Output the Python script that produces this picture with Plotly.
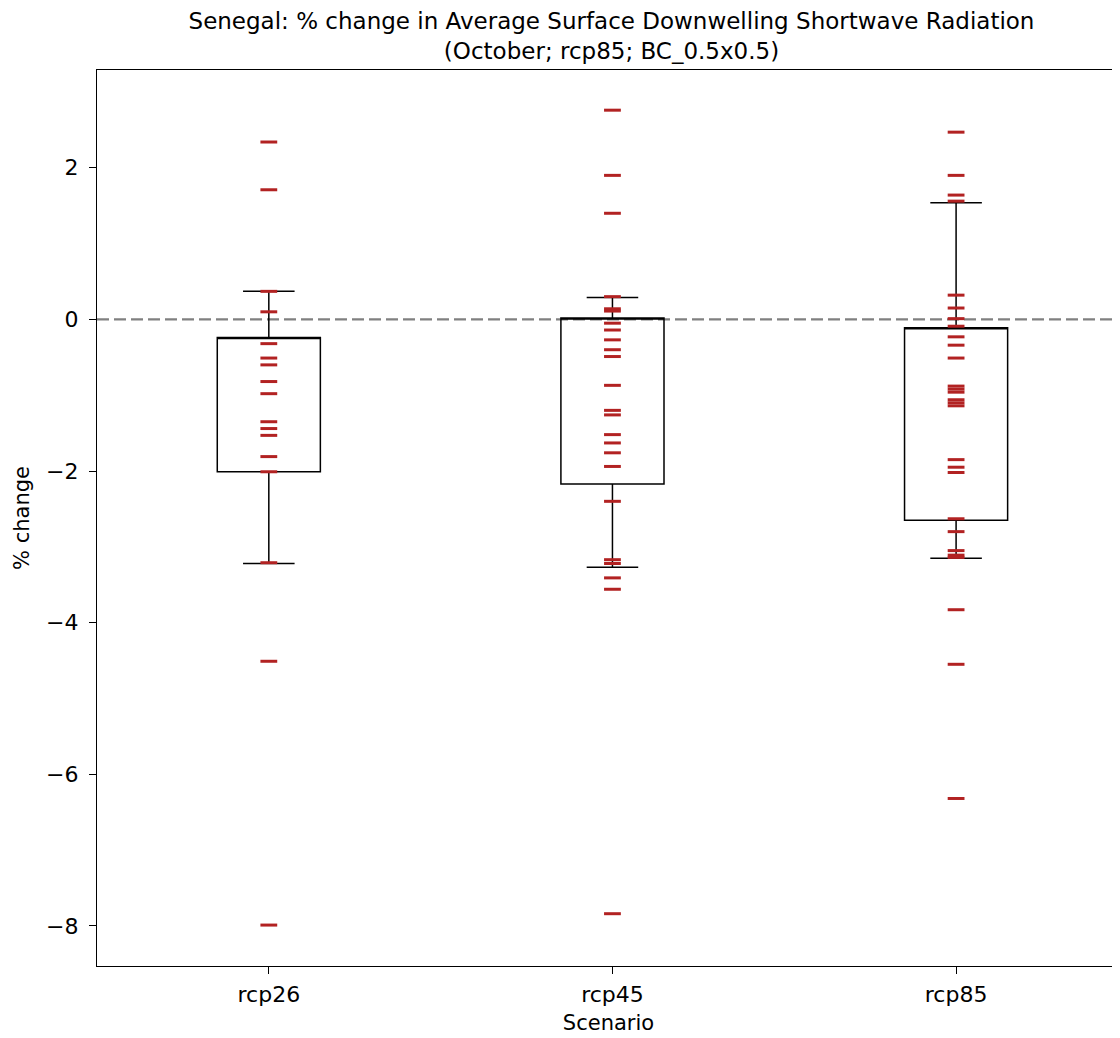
import plotly.graph_objects as go

categories = ["rcp26", "rcp45", "rcp85"]
positions = [1, 2, 3]

rcp26_vals = [2.34, 1.71, 0.37, 0.10, -0.32, -0.51, -0.60, -0.82, -0.98, -1.35,
              -1.44, -1.53, -1.81, -2.01, -3.21, -4.51, -7.99]
rcp45_vals = [2.76, 1.90, 1.40, 0.30, 0.14, 0.11, -0.05, -0.14, -0.27, -0.40,
              -0.49, -0.87, -1.20, -1.26, -1.52, -1.63, -1.76, -1.94, -2.40,
              -3.17, -3.22, -3.41, -3.56, -7.84]
rcp85_vals = [2.47, 1.90, 1.64, 1.56, 0.32, 0.15, 0.01, -0.09, -0.23, -0.34,
              -0.51, -0.88, -0.92, -0.96, -1.06, -1.10, -1.14, -1.85, -1.95,
              -2.02, -2.63, -2.80, -3.05, -3.11, -3.14, -3.83, -4.55, -6.32]

# box statistics as drawn
q1_vals = [-2.01, -2.17, -2.65]
q3_vals = [-0.24, 0.02, -0.11]
lower_whisker = [-3.22, -3.27, -3.15]
upper_whisker = [0.37, 0.29, 1.54]

ytick_vals = [-8, -6, -4, -2, 0, 2]
ytick_text = ["\u22128", "\u22126", "\u22124", "\u22122", "0", "2"]

FONT = "DejaVu Sans"

# page body has an 8px margin; compensate so the figure fills the window
W, H = 1112, 1030

fig = go.Figure()

fig.add_trace(go.Box(
    x=positions,
    q1=q1_vals,
    median=q3_vals,
    q3=q3_vals,
    lowerfence=lower_whisker,
    upperfence=upper_whisker,
    width=0.3,
    whiskerwidth=0.5,
    boxpoints=False,
    fillcolor="rgba(0,0,0,0)",
    line=dict(color="black", width=1.5),
    showlegend=False,
    hoverinfo="skip",
))

all_x = []
all_y = []
for pos, vals in zip(positions, [rcp26_vals, rcp45_vals, rcp85_vals]):
    all_x += [pos] * len(vals)
    all_y += vals

fig.add_trace(go.Scatter(
    x=all_x, y=all_y, mode="markers",
    marker=dict(symbol="line-ew", size=12, color="#b22222",
                line=dict(color="#b22222", width=3)),
    showlegend=False,
))

fig.add_hline(y=0, line=dict(color="#808080", width=2.2, dash="12px,5px"), layer="below")

fig.update_layout(
    width=W, height=H,
    margin=dict(l=89, r=0, t=62, b=72),
    paper_bgcolor="white", plot_bgcolor="white",
    font=dict(family=FONT, size=22, color="black"),
    title=dict(
        text="Senegal: % change in Average Surface Downwelling Shortwave Radiation<br>(October; rcp85; BC_0.5x0.5)",
        x=603.5 / W, xanchor="center", xref="container",
        y=1 - 21 / H, yanchor="middle", yref="container",
        font=dict(family=FONT, size=23, color="black"),
    ),
    showlegend=False,
)

fig.update_xaxes(
    range=[0.5, 3.477],
    tickvals=positions, ticktext=categories,
    showline=True, linecolor="black", linewidth=1.3, mirror=True,
    ticks="outside", ticklen=7, tickwidth=1.3, tickcolor="black",
    showgrid=False, zeroline=False,
    title=dict(text="Scenario", standoff=9, font=dict(size=21)),
    ticklabelstandoff=1,
    tickfont=dict(size=22),
)
fig.update_yaxes(
    range=[-8.53, 3.29],
    tickvals=ytick_vals, ticktext=ytick_text,
    showline=True, linecolor="black", linewidth=1.3, mirror=False,
    ticks="outside", ticklen=7, tickwidth=1.3, tickcolor="black",
    showgrid=False, zeroline=False,
    title=dict(text="% change", standoff=10, font=dict(size=21)),
    ticklabelstandoff=6,
    tickfont=dict(size=22),
)

fig.write_html("out.html")
